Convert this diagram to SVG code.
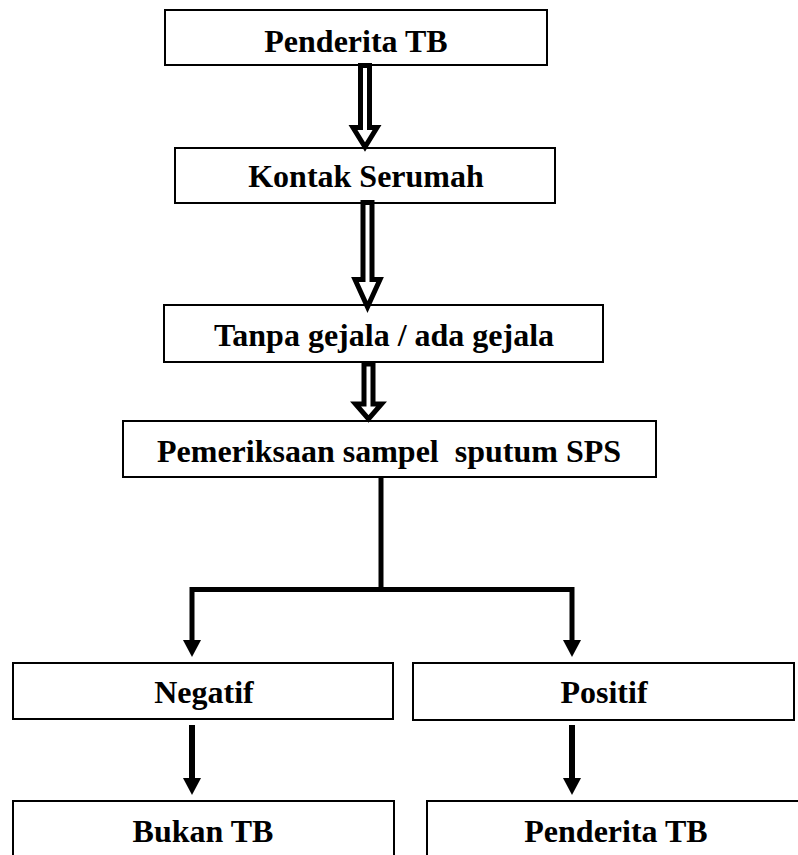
<svg xmlns="http://www.w3.org/2000/svg" width="798" height="855" viewBox="0 0 798 855">
<style>
.box{fill:#fff;stroke:#000;stroke-width:2}
.lbl{font-family:"Liberation Serif","Times New Roman",serif;font-weight:bold;font-size:32px;fill:#000;text-anchor:middle}
.hollow{fill:#fff;stroke:#000;stroke-width:5;stroke-linejoin:miter;stroke-miterlimit:10}
.line{fill:none;stroke:#000;stroke-width:5;stroke-linejoin:miter}
.head{fill:#000}
</style>
<rect width="798" height="855" fill="#fff"/>
<g id="n1"><rect class="box" x="165" y="10" width="382" height="55"/><text class="lbl" x="356" y="52">Penderita TB</text></g>
<g id="n2"><rect class="box" x="175" y="148" width="380" height="55"/><text class="lbl" x="366" y="187">Kontak Serumah</text></g>
<g id="n3"><rect class="box" x="164" y="305" width="439" height="57"/><text class="lbl" x="384" y="346">Tanpa gejala / ada gejala</text></g>
<g id="n4"><rect class="box" x="123" y="421" width="533" height="56"/><text class="lbl" x="389" y="462" xml:space="preserve">Pemeriksaan sampel  sputum SPS</text></g>
<g id="n5"><rect class="box" x="13" y="663" width="380" height="56"/><text class="lbl" x="204" y="703">Negatif</text></g>
<g id="n6"><rect class="box" x="413" y="663" width="381" height="57"/><text class="lbl" x="604" y="703">Positif</text></g>
<g id="n7"><rect class="box" x="13" y="801" width="381" height="80"/><text class="lbl" x="203" y="842">Bukan TB</text></g>
<g id="n8"><rect class="box" x="427" y="801" width="390" height="80"/><text class="lbl" x="616" y="842">Penderita TB</text></g>
<g id="connectors">
<path class="hollow" d="M360.5,65.5 L369.5,65.5 L369.5,127.5 L377,127.5 L365,147 L353,127.5 L360.5,127.5 Z"/>
<path class="hollow" d="M363,202.5 L372,202.5 L372,279.5 L380,279.5 L367.5,307 L355,279.5 L363,279.5 Z"/>
<path class="hollow" d="M364,364 L373,364 L373,404 L381.5,404 L368.5,419 L355.5,404 L364,404 Z"/>
<path class="line" d="M381,477 L381,589.5"/>
<path class="line" d="M192,642 L192,589.5 L572,589.5 L572,642"/>
<polygon class="head" points="183,640 201,640 192,657"/>
<polygon class="head" points="563,640 581,640 572,657"/>
<line x1="192" y1="725" x2="192" y2="780" stroke="#000" stroke-width="6"/>
<polygon class="head" points="183,778 201,778 192,795"/>
<line x1="572" y1="725" x2="572" y2="780" stroke="#000" stroke-width="6"/>
<polygon class="head" points="563,778 581,778 572,795"/>
</g>
</svg>
